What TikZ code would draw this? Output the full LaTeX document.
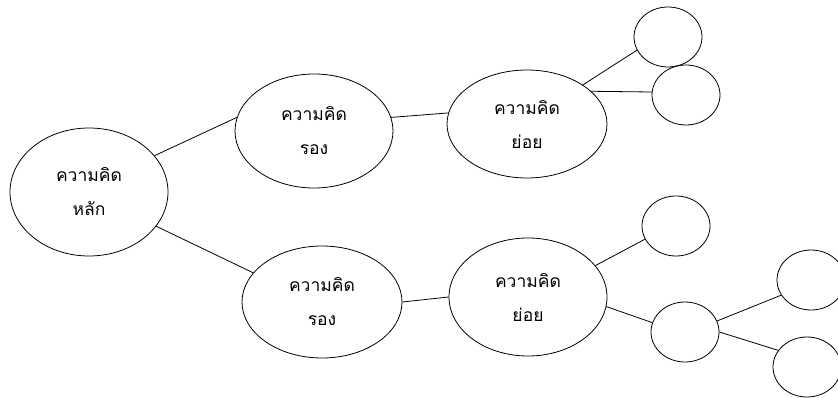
\documentclass[tikz,border=0pt]{standalone}
\usepackage{fontspec}
\newfontfamily\thaifont[Script=Thai]{Loma}
\usetikzlibrary{shapes.geometric}
\begin{document}
\begin{tikzpicture}[x=1pt,y=-1pt,
  idea/.style={ellipse,draw,line width=0.8pt,inner sep=0pt,
    minimum width=#1*2pt, align=center,
    font=\thaifont\fontsize{17.5}{34}\selectfont},
  small/.style={ellipse,draw,line width=0.8pt,inner sep=0pt,
    minimum width=68pt,minimum height=60pt},
  link/.style={line width=0.8pt}]
\useasboundingbox (0,0) rectangle (838,398);
\node[idea=79,minimum height=128pt] (main) at (89,192) {ความคิด\\หลัก};
\node[idea=79,minimum height=114pt] (s1) at (314,131) {ความคิด\\รอง};
\node[idea=80,minimum height=108pt] (u1) at (527,124) {ความคิด\\ย่อย};
\node[idea=80,minimum height=112pt] (s2) at (322,302) {ความคิด\\รอง};
\node[idea=79,minimum height=118pt] (u2) at (528,297) {ความคิด\\ย่อย};
\node[small] (a1) at (668,37) {};
\node[small] (a2) at (686,95) {};
\node[small] (b1) at (676,226) {};
\node[small] (b2) at (685,332) {};
\node[small] (c1) at (811,280) {};
\node[small] (c2) at (807,367) {};
\draw[link] (main.29) -- (s1.170);
\draw[link] (main.-27) -- (s2.157);
\draw[link] (s1.10) -- (u1.172);
\draw[link] (s2.0) -- (u2.180);
\draw[link] (u1.35) -- (a1.203);
\draw[link] (u1.27) -- (a2.175);
\draw[link] (u2.25) -- (b1.203);
\draw[link] (u2.-7) -- (b2.164);
\draw[link] (b2.19) -- (c1.207);
\draw[link] (b2.0) -- (c2.150);
\end{tikzpicture}
\end{document}
